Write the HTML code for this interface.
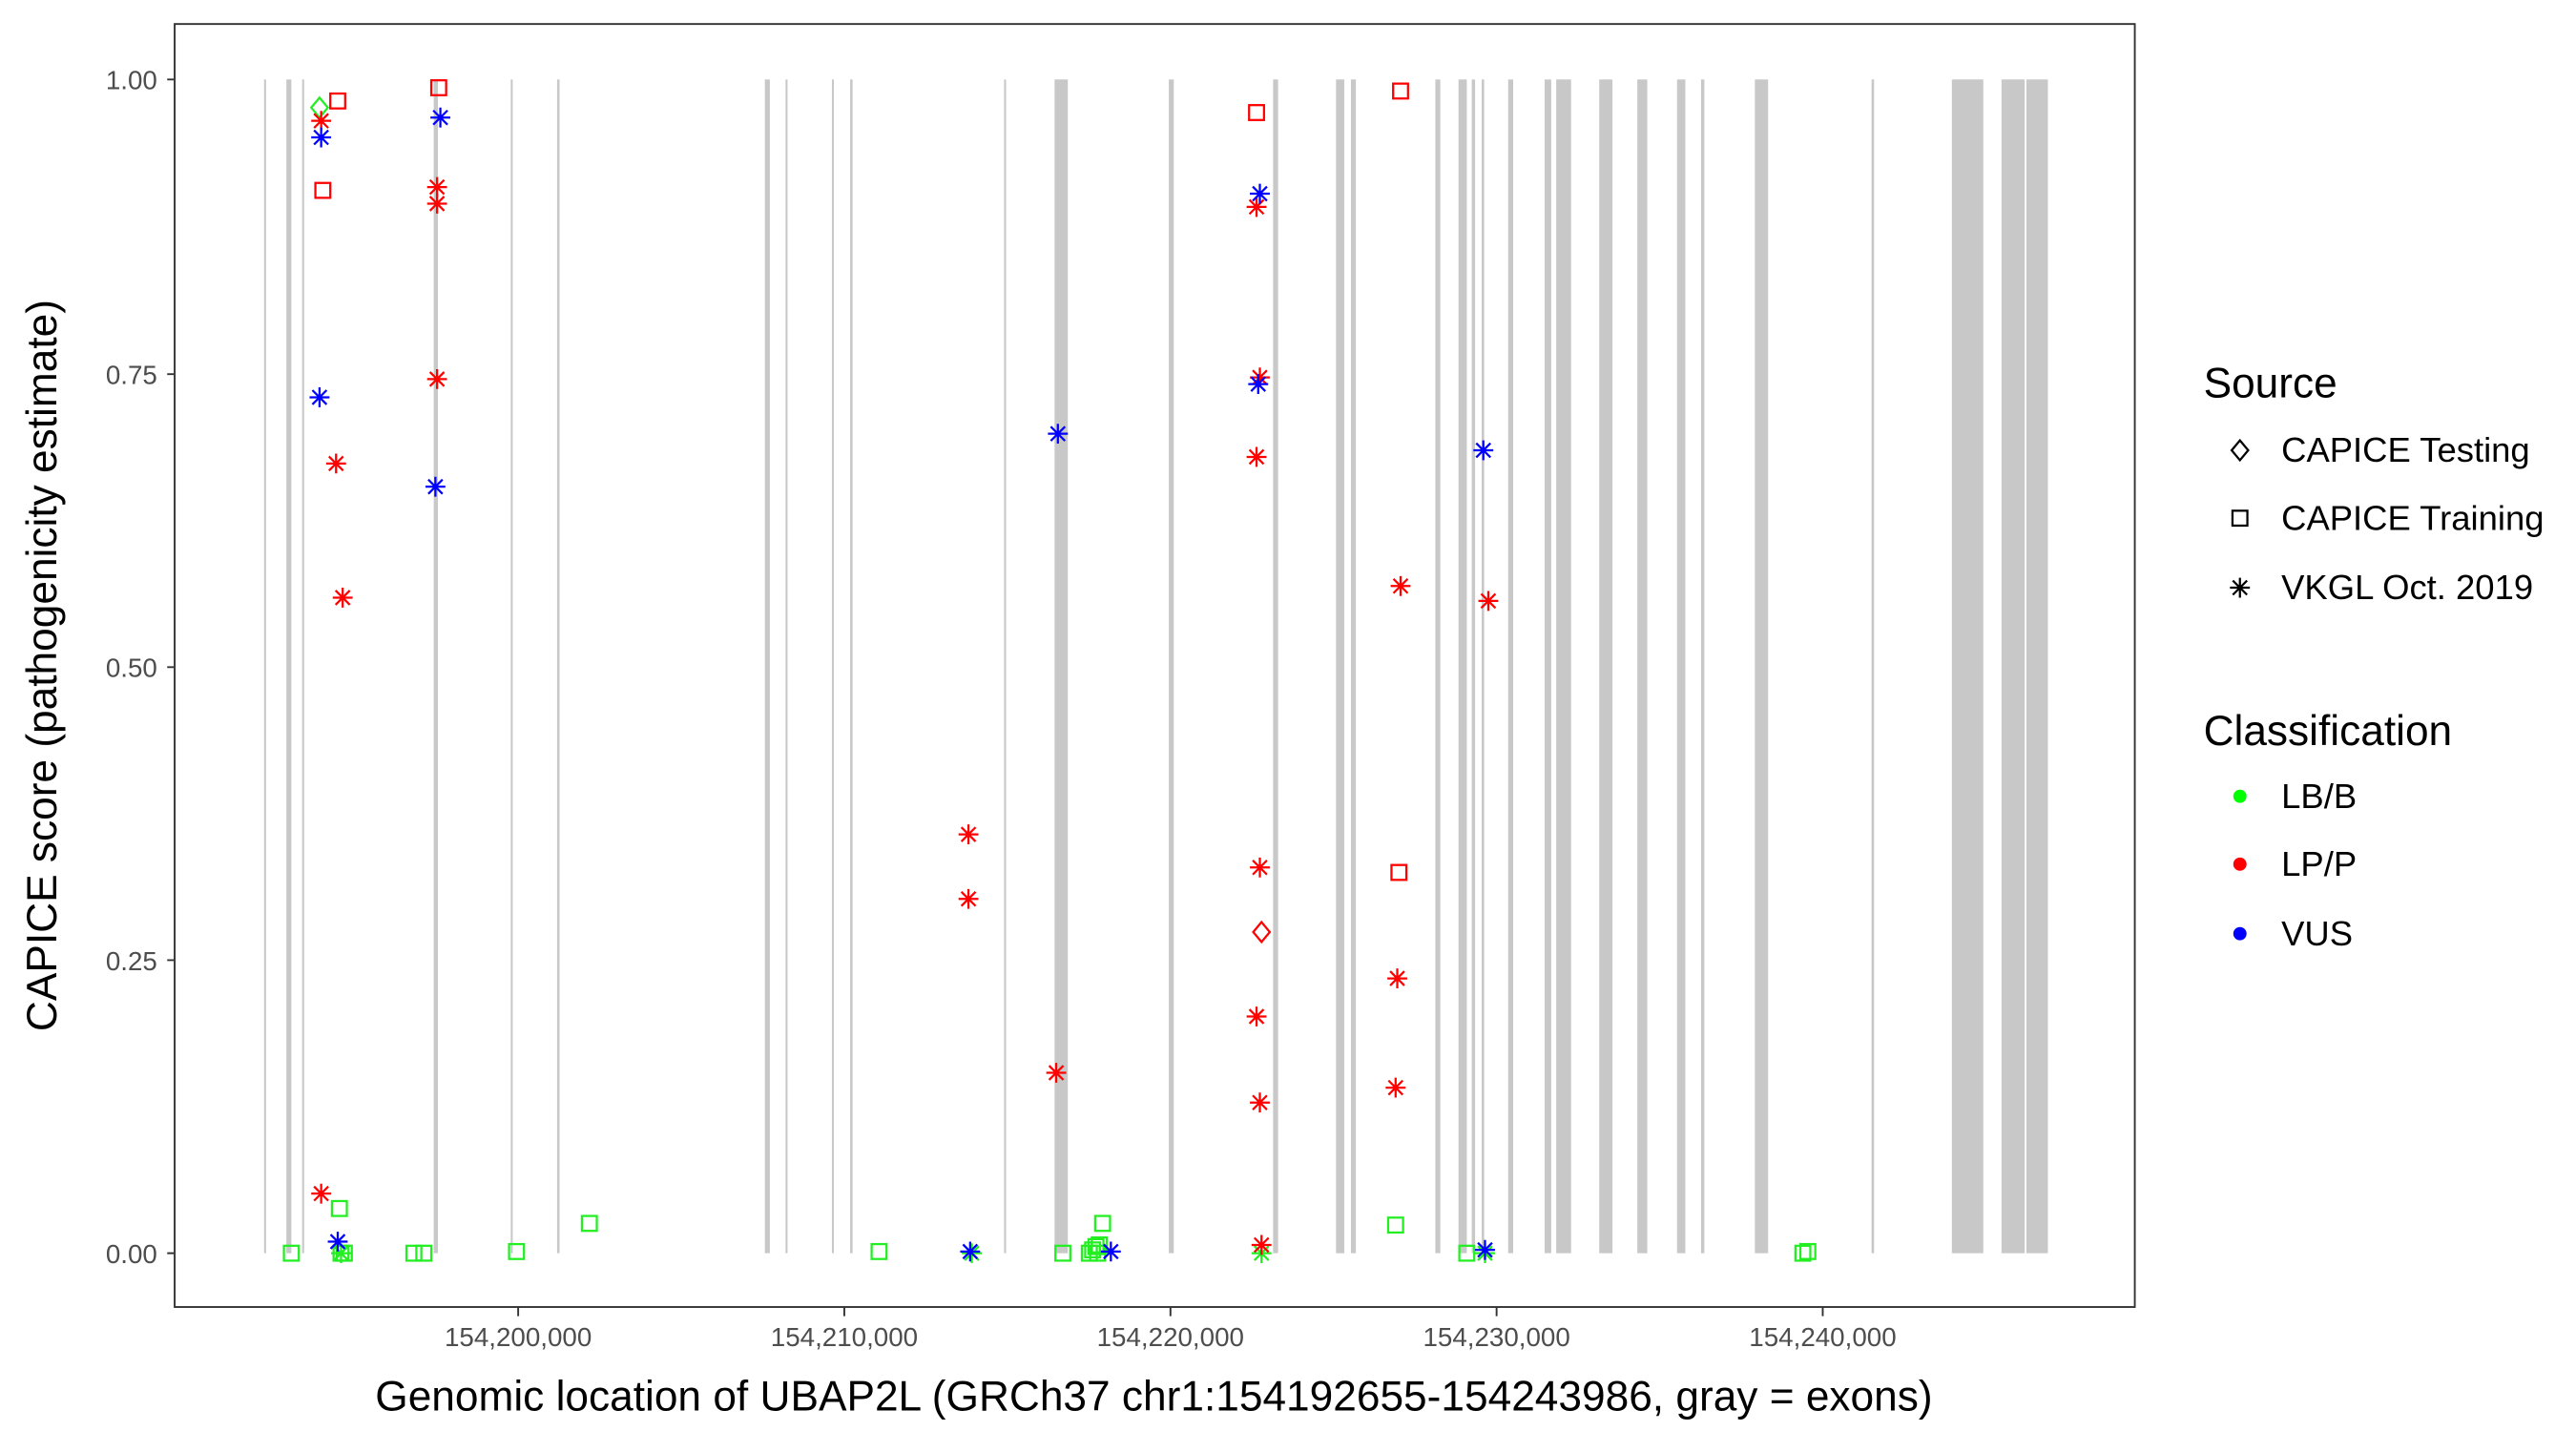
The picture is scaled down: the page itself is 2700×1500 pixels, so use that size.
<!DOCTYPE html>
<html><head><meta charset="utf-8"><style>html,body{margin:0;padding:0;background:#fff}svg{display:block}</style></head><body>
<svg width="2700" height="1500" viewBox="0 0 1556 864.4" preserveAspectRatio="none" xmlns="http://www.w3.org/2000/svg" font-family="Liberation Sans, sans-serif">
<defs>
<g id="st"><path d="M-6,0H6M0,-6V6M-4.3,-4.3L4.3,4.3M-4.3,4.3L4.3,-4.3" stroke-width="1.3" fill="none"/></g>
<g id="sq"><rect x="-4.5" y="-4.5" width="9" height="9" stroke-width="1.3" fill="none"/></g>
<g id="di"><path d="M0,-6L5,0L0,6L-5,0Z" stroke-width="1.3" fill="none"/></g>
</defs>
<g fill="#c8c8c8">
<rect x="159.5" y="48" width="1.2" height="709"/><rect x="173" y="48" width="3" height="709"/><rect x="182.5" y="48" width="1.2" height="709"/>
<rect x="262" y="48" width="2.5" height="709"/><rect x="308.5" y="48" width="1.2" height="709"/><rect x="336.5" y="48" width="1.5" height="709"/>
<rect x="462" y="48" width="3" height="709"/><rect x="474.5" y="48" width="1.2" height="709"/><rect x="502.5" y="48" width="1.2" height="709"/><rect x="513.5" y="48" width="1.5" height="709"/>
<rect x="606.5" y="48" width="1.2" height="709"/><rect x="637" y="48" width="8" height="709"/><rect x="706" y="48" width="3" height="709"/>
<rect x="769" y="48" width="3" height="709"/><rect x="807" y="48" width="5" height="709"/><rect x="816" y="48" width="3" height="709"/>
<rect x="867" y="48" width="3" height="709"/><rect x="881" y="48" width="5" height="709"/><rect x="889" y="48" width="2" height="709"/><rect x="895" y="48" width="1.5" height="709"/>
<rect x="911" y="48" width="3" height="709"/><rect x="933" y="48" width="4" height="709"/><rect x="940" y="48" width="9" height="709"/>
<rect x="966" y="48" width="8" height="709"/><rect x="989" y="48" width="6" height="709"/><rect x="1013" y="48" width="5" height="709"/><rect x="1027.5" y="48" width="2" height="709"/>
<rect x="1060" y="48" width="8" height="709"/><rect x="1130.5" y="48" width="1.5" height="709"/>
<rect x="1179" y="48" width="19" height="709"/><rect x="1209" y="48" width="14" height="709"/><rect x="1224" y="48" width="13" height="709"/>
</g>
<rect x="105.5" y="14.5" width="1184" height="775" fill="none" stroke="#333" stroke-width="1.1"/>
<g stroke="#333" stroke-width="1.1">
<path d="M101,48H105M101,226H105M101,403H105M101,580H105M101,757H105"/>
<path d="M313,790V795M510,790V795M707,790V795M904,790V795M1101,790V795"/>
</g>
<g font-size="16" fill="#4d4d4d" text-anchor="end">
<text x="95" y="54">1.00</text><text x="95" y="232">0.75</text><text x="95" y="409">0.50</text><text x="95" y="586">0.25</text><text x="95" y="763">0.00</text>
</g>
<g font-size="16" fill="#4d4d4d" text-anchor="middle">
<text x="313" y="813">154,200,000</text><text x="510" y="813">154,210,000</text><text x="707" y="813">154,220,000</text><text x="904" y="813">154,230,000</text><text x="1101" y="813">154,240,000</text>
</g>
<text x="697" y="852" font-size="25.5" text-anchor="middle">Genomic location of UBAP2L (GRCh37 chr1:154192655-154243986, gray = exons)</text>
<text transform="translate(34,402) rotate(-90)" font-size="25.5" text-anchor="middle">CAPICE score (pathogenicity estimate)</text>
<text x="1331" y="240" font-size="25.5">Source</text>
<text x="1331" y="450" font-size="25.5">Classification</text>
<g font-size="21">
<text x="1378" y="279">CAPICE Testing</text><text x="1378" y="320">CAPICE Training</text><text x="1378" y="362">VKGL Oct. 2019</text>
<text x="1378" y="488">LB/B</text><text x="1378" y="529">LP/P</text><text x="1378" y="571">VUS</text>
</g>
<use href="#di" x="1353" y="272" stroke="#000"/><use href="#sq" x="1353" y="313" stroke="#000"/><use href="#st" x="1353" y="355" stroke="#000"/>
<circle cx="1353" cy="481" r="4" fill="#00ff00"/><circle cx="1353" cy="522" r="4" fill="#ff0000"/><circle cx="1353" cy="564" r="4" fill="#0000ff"/>
<g stroke="#22ee22">
<use href="#sq" x="176" y="757"/><use href="#sq" x="206" y="757"/><use href="#sq" x="208" y="757"/><use href="#sq" x="250" y="757"/><use href="#sq" x="256" y="757"/><use href="#sq" x="312" y="756"/><use href="#sq" x="531" y="756"/><use href="#sq" x="642" y="757"/><use href="#sq" x="886" y="757"/><use href="#sq" x="1089" y="757"/><use href="#sq" x="1092" y="756"/>
<use href="#sq" x="205" y="730"/><use href="#sq" x="356" y="739"/><use href="#sq" x="666" y="739"/><use href="#sq" x="843" y="740"/>
<use href="#sq" x="658" y="757"/><use href="#sq" x="660" y="755"/><use href="#sq" x="662" y="753"/><use href="#sq" x="664" y="752"/><use href="#sq" x="663" y="757"/>
<use href="#di" x="193" y="65"/>
<use href="#st" x="587" y="757"/><use href="#st" x="762" y="757"/><use href="#st" x="897" y="757"/><use href="#st" x="206" y="757"/>
</g>
<g stroke="#ff0000">
<use href="#sq" x="204" y="61"/><use href="#sq" x="195" y="115"/><use href="#sq" x="265" y="53"/><use href="#sq" x="759" y="68"/><use href="#sq" x="846" y="55"/><use href="#sq" x="845" y="527"/>
<use href="#di" x="762" y="563"/>
<use href="#st" x="194" y="73"/><use href="#st" x="203" y="280"/><use href="#st" x="207" y="361"/><use href="#st" x="264" y="113"/><use href="#st" x="264" y="123"/><use href="#st" x="264" y="229"/><use href="#st" x="194" y="721"/>
<use href="#st" x="585" y="504"/><use href="#st" x="585" y="543"/><use href="#st" x="638" y="648"/>
<use href="#st" x="759" y="125"/><use href="#st" x="761" y="228"/><use href="#st" x="759" y="276"/><use href="#st" x="761" y="524"/><use href="#st" x="759" y="614"/><use href="#st" x="761" y="666"/><use href="#st" x="762" y="752"/>
<use href="#st" x="846" y="354"/><use href="#st" x="899" y="363"/><use href="#st" x="844" y="591"/><use href="#st" x="843" y="657"/>
</g>
<g stroke="#0000ff">
<use href="#st" x="194" y="83"/><use href="#st" x="266" y="71"/><use href="#st" x="193" y="240"/><use href="#st" x="263" y="294"/><use href="#st" x="204" y="750"/>
<use href="#st" x="639" y="262"/><use href="#st" x="761" y="117"/><use href="#st" x="760" y="232"/><use href="#st" x="896" y="272"/>
<use href="#st" x="586" y="756"/><use href="#st" x="671" y="756"/><use href="#st" x="897" y="755"/>
</g>
</svg>
</body></html>
